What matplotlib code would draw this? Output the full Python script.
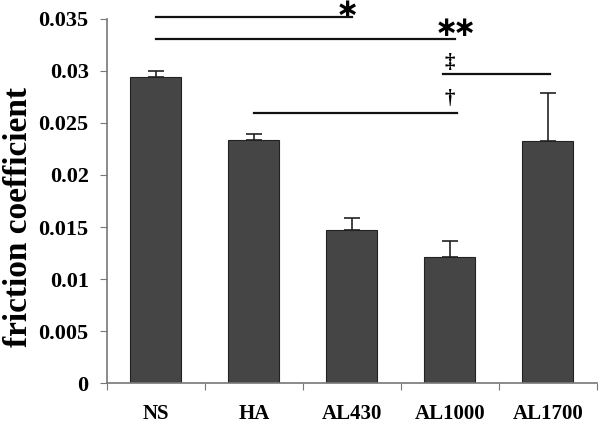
import matplotlib
matplotlib.use("Agg")
import matplotlib.pyplot as plt
import numpy as np

groups = ["NS", "HA", "AL430", "AL1000", "AL1700"]
friction = [0.0294, 0.0234, 0.0147, 0.0121, 0.0233]
errors = [0.0006, 0.0005, 0.0012, 0.0016, 0.0046]

# significance bars
sig_start = [0, 0, 2.93, 1.0]
sig_end = [2.0, 3.05, 4.02, 3.07]
sig_y = [0.0352, 0.0331, 0.0297, 0.0260]
# marks drawn above the bars
marks = [r"${\ast}$", r"${\ast}\!{\ast}$", "\u2021", "\u2020"]
mark_x = [1.94, 3.04, 3.0, 3.0]
mark_y = [0.0357, 0.0340, 0.0308, 0.0273]

plt.rcParams['font.family'] = ['Liberation Serif', 'DejaVu Serif']
plt.rcParams['font.weight'] = 'bold'
plt.rcParams['mathtext.fontset'] = 'dejavusans'

fig = plt.figure(figsize=(6, 4.29), dpi=100)
ax = fig.add_axes([0.178, 0.107, 0.817, 0.849])

x = np.arange(len(groups))
ax.bar(x, friction, width=0.52, color='#454545', edgecolor='#222222', linewidth=0.8, zorder=2)
ax.errorbar(x, friction, yerr=[np.zeros(len(errors)), errors], fmt='none',
            ecolor='#222222', elinewidth=1.2, capsize=6, capthick=1.2, zorder=3)

for a, b, y in zip(sig_start, sig_end, sig_y):
    ax.plot([a, b], [y, y], color='#111111', lw=1.6, clip_on=False, zorder=4)

for m, mx, my in zip(marks, mark_x, mark_y):
    if "ast" in m:
        ax.text(mx, my, m, fontsize=20, ha='center', va='center', clip_on=False)
    else:
        ax.text(mx, my, m, fontsize=15, ha='center', va='center', clip_on=False)

ax.set_xlim(-0.5, 4.5)
ax.set_ylim(0, 0.035)
ax.set_yticks(np.arange(0, 0.0351, 0.005))
ax.set_yticklabels(["0", "0.005", "0.01", "0.015", "0.02", "0.025", "0.03", "0.035"])
ax.set_xticks(np.arange(-0.5, 4.6, 1.0))
ax.set_xticklabels([])
ax.set_xticks(x, minor=True)
ax.set_xticklabels(groups, minor=True)
ax.tick_params(axis='x', which='minor', length=0, pad=15, labelsize=15)
ax.tick_params(axis='x', which='major', length=5, color='#777777', direction='out')
ax.tick_params(axis='y', length=5, color='#777777', labelsize=16, pad=8)

for s in ['top', 'right']:
    ax.spines[s].set_visible(False)
for s in ['left', 'bottom']:
    ax.spines[s].set_color('#777777')
    ax.spines[s].set_linewidth(1.2)

fig.text(18.5 / 600, 1 - 217 / 429, "friction coefficient", fontsize=24, fontweight='bold',
         rotation=90, ha='center', va='center')

fig.savefig("out.png", dpi=100)
